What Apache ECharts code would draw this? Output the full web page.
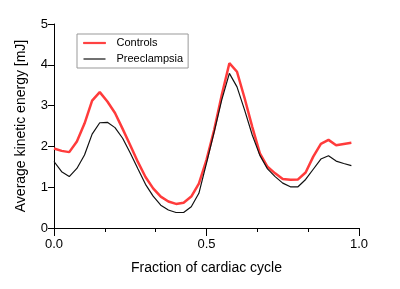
<!DOCTYPE html>
<html>
<head>
<meta charset="utf-8">
<script src="https://cdn.jsdelivr.net/npm/echarts@6/dist/echarts.min.js"></script>
<style>
  html, body { margin: 0; padding: 0; background: #fff; }
  #chart { width: 400px; height: 289px; }
</style>
</head>
<body>
<div id="chart"></div>
<script>
// fraction of cardiac cycle
var fraction = [0, 0.025, 0.05, 0.075, 0.1, 0.125, 0.15, 0.175, 0.2, 0.225,
    0.25, 0.275, 0.3, 0.325, 0.35, 0.375, 0.4, 0.425, 0.45, 0.475,
    0.5, 0.525, 0.55, 0.575, 0.6, 0.625, 0.65, 0.675, 0.7, 0.725,
    0.75, 0.775, 0.8, 0.825, 0.85, 0.875, 0.9, 0.925, 0.95, 0.975];
var controls = [1.95, 1.89, 1.86, 2.12, 2.56, 3.12, 3.33, 3.10, 2.82, 2.43,
    2.03, 1.62, 1.25, 0.97, 0.77, 0.65, 0.59, 0.62, 0.77, 1.09,
    1.67, 2.40, 3.26, 4.04, 3.83, 3.18, 2.48, 1.83, 1.50, 1.34,
    1.20, 1.18, 1.19, 1.36, 1.75, 2.06, 2.16, 2.03, 2.06, 2.09];
var preeclampsia = [1.63, 1.38, 1.26, 1.46, 1.79, 2.30, 2.58, 2.59, 2.46, 2.20,
    1.84, 1.45, 1.07, 0.78, 0.56, 0.44, 0.38, 0.38, 0.52, 0.85,
    1.59, 2.35, 3.14, 3.79, 3.46, 2.89, 2.28, 1.78, 1.45, 1.26,
    1.10, 1.01, 1.01, 1.19, 1.44, 1.69, 1.77, 1.64, 1.58, 1.53];
var seriesNames = ['Controls', 'Preeclampsia'];
var colors = ['#ff3b3b', '#111111'];

function pairs(xs, ys) {
    return xs.map(function (x, i) { return [x, ys[i]]; });
}

var myChart = echarts.init(document.getElementById('chart'));
var font = 'Liberation Sans, Arial, sans-serif';

var option = {
    animation: false,
    textStyle: { fontFamily: font },
    grid: { left: 54, right: 41, top: 24, bottom: 61 },
    legend: {
        // thin rect icons so the legend shows plain line samples
        data: [{
            name: seriesNames[0], icon: 'rect',
            itemStyle: { color: colors[0], borderColor: colors[0], borderWidth: 1 }
        }, {
            name: seriesNames[1], icon: 'rect',
            itemStyle: { color: colors[1], borderColor: colors[1], borderWidth: 0 }
        }],
        orient: 'vertical',
        left: 77,
        top: 34,
        padding: [2, 5, 2, 6],
        itemWidth: 22,
        itemHeight: 1.2,
        itemGap: 2,
        borderColor: '#999',
        borderWidth: 1,
        textStyle: { fontSize: 11, lineHeight: 14, color: '#000', fontFamily: font, padding: [0, 0, 0, 6] }
    },
    xAxis: {
        type: 'value',
        min: 0,
        max: 1,
        interval: 0.5,
        name: 'Fraction of cardiac cycle',
        nameLocation: 'middle',
        nameGap: 33,
        nameTextStyle: { fontSize: 14, color: '#000' },
        axisLine: { lineStyle: { color: '#000', width: 1 } },
        axisTick: { show: true, length: 8, lineStyle: { color: '#000' } },
        minorTick: { show: true, splitNumber: 3, length: 4, lineStyle: { color: '#000' } },
        splitLine: { show: false },
        axisLabel: {
            fontSize: 13, color: '#000', margin: 10,
            formatter: function (v) { return v.toFixed(1); }
        }
    },
    yAxis: {
        type: 'value',
        min: 0,
        max: 5,
        interval: 1,
        name: 'Average kinetic energy [mJ]',
        nameLocation: 'middle',
        nameGap: 26,
        nameTextStyle: { fontSize: 14, color: '#000' },
        axisLine: { show: true, lineStyle: { color: '#000', width: 1 } },
        axisTick: { show: true, length: 6, lineStyle: { color: '#000' } },
        splitLine: { show: false },
        axisLabel: { fontSize: 13, color: '#000', margin: 6 }
    },
    series: [{
        name: seriesNames[0],
        type: 'line',
        symbol: 'none',
        data: pairs(fraction, controls),
        itemStyle: { color: colors[0] },
        lineStyle: { color: colors[0], width: 2.5 }
    }, {
        name: seriesNames[1],
        type: 'line',
        symbol: 'none',
        data: pairs(fraction, preeclampsia),
        itemStyle: { color: colors[1] },
        lineStyle: { color: colors[1], width: 1.2 }
    }]
};

myChart.setOption(option);
window.addEventListener('resize', function () {
    myChart.resize();
});
</script>
</body>
</html>
